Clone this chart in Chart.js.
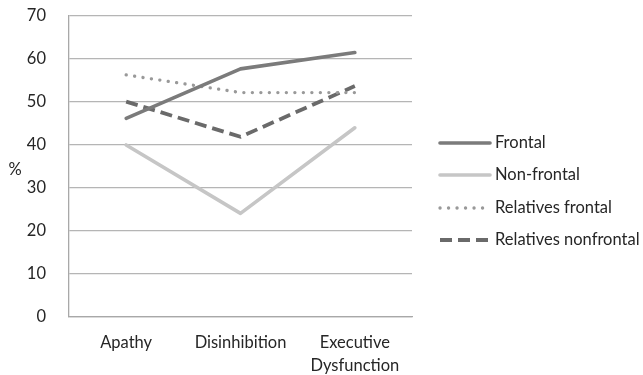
<!DOCTYPE html>
<html>
<head>
<meta charset="utf-8">
<script src="https://cdn.jsdelivr.net/npm/chart.js@4/dist/chart.umd.min.js"></script>
<style>
  html, body { margin: 0; padding: 0; background: #fff; }
  #wrap { width: 643px; height: 375px; }
</style>
</head>
<body>
<div id="wrap"><canvas id="c" width="643" height="375"></canvas></div>
<script>
// Categories and series (percent)
const categories = ['Apathy', 'Disinhibition', ['Executive', 'Dysfunction']];
const frontal = [46.2, 57.7, 61.5];
const nonFrontal = [40.0, 24.1, 44.0];
const relativesFrontal = [56.3, 52.2, 52.2];
const relativesNonfrontal = [50.1, 41.9, 53.7];
const seriesNames = ['Frontal', 'Non-frontal', 'Relatives frontal', 'Relatives nonfrontal'];
const yTicks = [0, 10, 20, 30, 40, 50, 60, 70];

const FONT = 'Lato, "Open Sans", sans-serif';
const FONT_SIZE = 16.5;
const TEXT_COLOR = '#262626';

// Legend drawn to the right of the plot with line samples matching each dataset
const sideLegend = {
  id: 'sideLegend',
  afterDraw(chart) {
    const ctx = chart.ctx;
    ctx.save();
    const x0 = 440, x1 = 490, tx = 495;
    const ys = [143, 175, 208, 240];
    chart.data.datasets.forEach((ds, i) => {
      const y = ys[i];
      ctx.beginPath();
      ctx.strokeStyle = ds.borderColor;
      ctx.lineWidth = ds.borderWidth;
      ctx.lineCap = ds.borderCapStyle || 'butt';
      ctx.setLineDash(ds.borderDash || []);
      ctx.moveTo(x0, y);
      ctx.lineTo(x1, y);
      ctx.stroke();
      ctx.setLineDash([]);
      ctx.fillStyle = TEXT_COLOR;
      ctx.font = FONT_SIZE + 'px ' + FONT;
      ctx.textAlign = 'left';
      ctx.textBaseline = 'middle';
      ctx.fillText(ds.label, tx, y);
    });
    // Y axis unit label
    ctx.fillStyle = TEXT_COLOR;
    ctx.font = FONT_SIZE + 'px ' + FONT;
    ctx.textAlign = 'center';
    ctx.textBaseline = 'middle';
    ctx.fillText('%', 15, 170);
    ctx.restore();
  }
};

new Chart(document.getElementById('c'), {
  type: 'line',
  data: {
    labels: categories,
    datasets: [
      { label: seriesNames[0], data: frontal, borderColor: '#7b7b7b', borderWidth: 3.6, borderCapStyle: 'round', borderJoinStyle: 'round' },
      { label: seriesNames[1], data: nonFrontal, borderColor: '#c6c6c6', borderWidth: 3.6, borderCapStyle: 'round', borderJoinStyle: 'round' },
      { label: seriesNames[2], data: relativesFrontal, borderColor: '#999999', borderWidth: 3.3, borderDash: [0.1, 8.4], borderCapStyle: 'round' },
      { label: seriesNames[3], data: relativesNonfrontal, borderColor: '#6a6a6a', borderWidth: 3.8, borderDash: [12, 6], borderCapStyle: 'butt' }
    ]
  },
  options: {
    responsive: false,
    animation: false,
    events: [],
    elements: { point: { radius: 0 }, line: { tension: 0 } },
    layout: { padding: { left: 0, top: 16, right: 231, bottom: 0 } },
    plugins: { legend: { display: false }, tooltip: { enabled: false } },
    scales: {
      x: {
        offset: true,
        afterFit(scale) { scale.height = 58; },
        grid: { display: false, drawTicks: false },
        border: { display: true, color: '#a8a8a8', width: 1.3 },
        ticks: {
          color: TEXT_COLOR,
          padding: 15,
          font: { family: FONT, size: FONT_SIZE, lineHeight: 1.35 },
          maxRotation: 0,
          autoSkip: false
        }
      },
      y: {
        min: 0,
        max: 70,
        afterBuildTicks(scale) { scale.ticks = yTicks.map(v => ({ value: v })); },
        afterFit(scale) {
          scale.width = 69;
          scale.paddingTop = 0;
          scale.paddingBottom = 0;
        },
        grid: { color: '#b5b5b5', lineWidth: 1.2, drawTicks: false },
        border: { display: true, color: '#a8a8a8', width: 1.3 },
        ticks: {
          color: TEXT_COLOR,
          padding: 23,
          font: { family: FONT, size: FONT_SIZE }
        }
      }
    }
  },
  plugins: [sideLegend]
});
</script>
</body>
</html>
